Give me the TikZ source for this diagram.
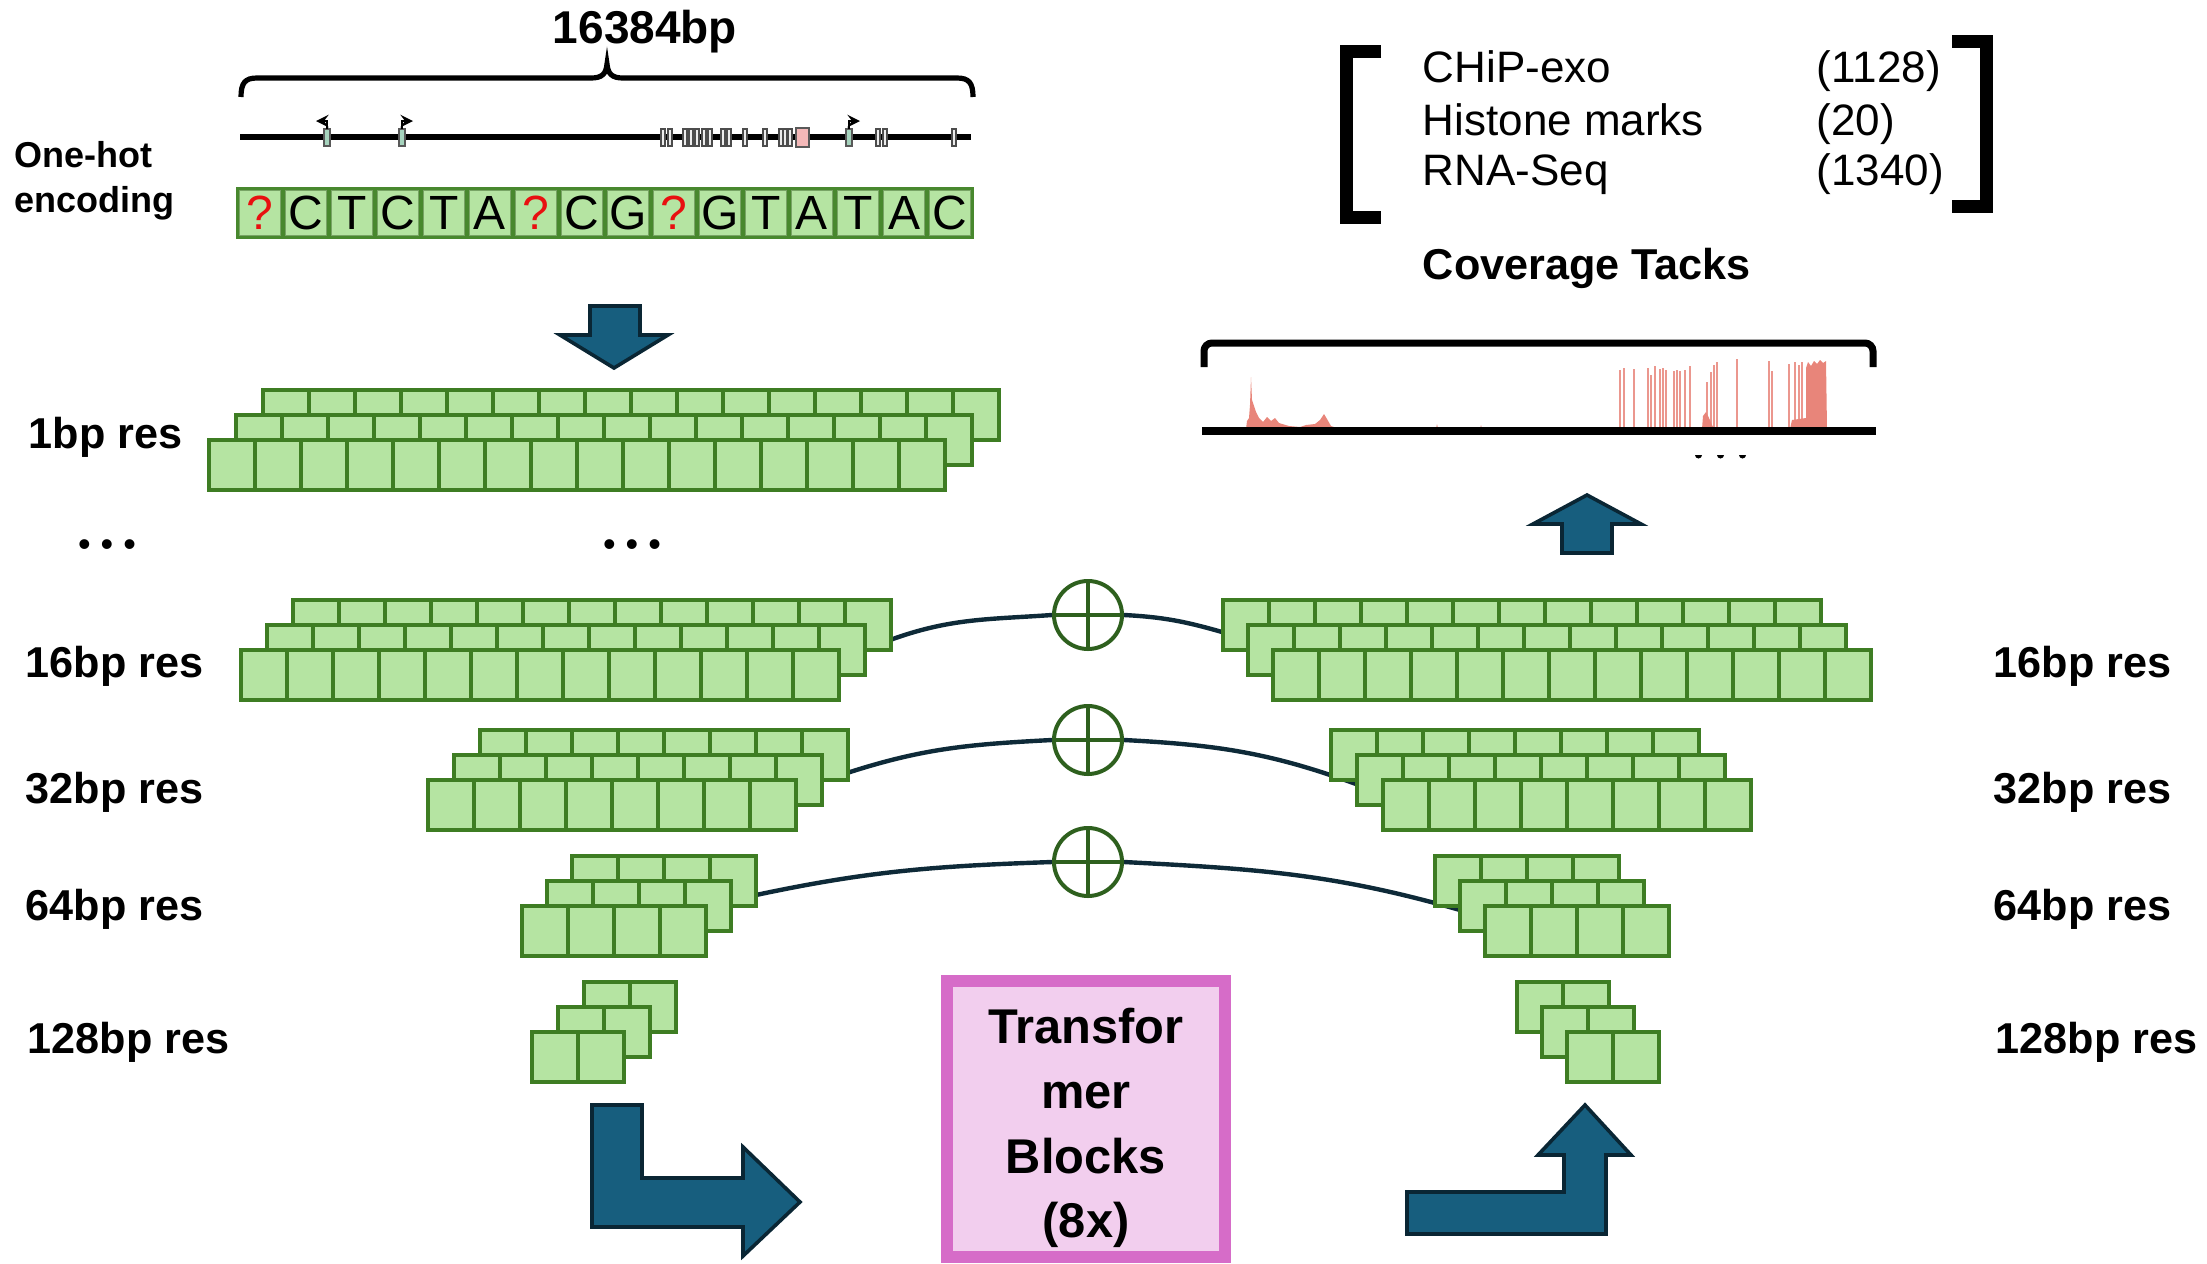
\documentclass[tikz,border=0pt]{standalone}
\usepackage{fontspec}
\setmainfont{Liberation Sans}
\usepackage{tikz}
\usetikzlibrary{positioning}
\usetikzlibrary{backgrounds}

\definecolor{cellfill}{RGB}{181,228,162}
\definecolor{cellline}{RGB}{62,125,35}
\definecolor{seqframe}{RGB}{72,136,46}
\definecolor{sumgreen}{RGB}{46,96,30}
\definecolor{wire}{RGB}{14,42,56}
\definecolor{arrowfill}{RGB}{23,94,126}
\definecolor{arrowline}{RGB}{10,38,52}
\definecolor{blockline}{RGB}{214,108,200}
\definecolor{blockfill}{RGB}{242,206,238}
\definecolor{signal}{RGB}{232,133,122}
\definecolor{qmark}{RGB}{232,16,16}
\definecolor{exon}{RGB}{166,212,190}
\definecolor{utr}{RGB}{244,184,184}

\tikzset{
  bincell/.style={fill=cellfill, draw=cellline, line width=1.1pt},
  seqbox/.style={fill=cellfill, draw=cellline!70!white, line width=0.4pt},
  reslabel/.style={anchor=base west, inner sep=0pt, font=\fontsize{10.8}{13}\selectfont\bfseries},
  listtext/.style={anchor=base west, inner sep=0pt, font=\fontsize{11}{13}\selectfont},
  fatarrow/.style={fill=arrowfill, draw=arrowline, line width=0.9pt, line join=miter},
  skipwire/.style={draw=wire, line width=1.1pt},
  sumnode/.style={circle, draw=sumgreen, fill=white, line width=1pt, minimum size=17pt, inner sep=0pt,
    path picture={\draw[sumgreen, line width=1pt] (path picture bounding box.north) -- (path picture bounding box.south)
      (path picture bounding box.west) -- (path picture bounding box.east);}},
}

% one row of bins: left x, top y, number of bins
\newcommand{\cellrow}[3]{%
  \foreach \i in {1,...,#3}{
    \draw[bincell] ({#1+(\i-1)*46},{#2}) rectangle ++(46,50);
  }
}
% three rows stacked: front row left x, top y, bins, row offset, name
\newcommand{\cellstack}[5]{%
  \cellrow{#1+2*(#4)}{#2-50}{#3}
  \cellrow{#1+(#4)}{#2-25}{#3}
  \cellrow{#1}{#2}{#3}
  \coordinate (#5) at (#1,#2);
}

\begin{document}
\begin{tikzpicture}[x=0.25pt,y=0.25pt,yscale=-1,xscale=1]
\useasboundingbox (0,0) rectangle (2207,1264);

% Text Node
\node[anchor=base, inner sep=0pt, font=\fontsize{11.5}{13}\selectfont\bfseries] (seqlen) at (645,43) {16384bp};
%Brace
\draw[line width=1.3pt] (241,97) .. controls (241,83) and (245,78) .. (257,78) -- (591,78) .. controls (602,78) and (606,74) .. (607,64) .. controls (608,74) and (612,78) .. (623,78) -- (957,78) .. controls (969,78) and (973,83) .. (973,97);

% Text Node
\node[anchor=base west, inner sep=0pt, font=\fontsize{9}{11}\selectfont\bfseries] (onehot) at (14,167) {One-hot};
\node[anchor=base west, inner sep=0pt, font=\fontsize{9}{11}\selectfont\bfseries] (encoding) at (14,212) {encoding};

%Gene track
\draw[line width=1.3pt] (240,137) -- (971,137);
\foreach \x in {663,670,685,691,697,704,710,723,729,745,765,781,785,790,878,885,954}{
  \draw[fill=white!85!gray, draw=gray!60!black, line width=0.3pt] ({\x-2},129) rectangle ({\x+2},146);
}
\draw[fill=utr, draw=gray!70!black, line width=0.3pt] (796,128) rectangle (809,147);
\foreach \x in {327,402,849}{
  \draw[fill=exon, draw=gray!70!black, line width=0.3pt] ({\x-3},129) rectangle ({\x+3},146);
}
\draw[-stealth, line width=0.4pt] (327,129) -- (327,121) -- (316,121);
\draw[-stealth, line width=0.4pt] (402,129) -- (402,121) -- (413,121);
\draw[-stealth, line width=0.4pt] (849,129) -- (849,121) -- (860,121);

%Sequence
\draw[fill=seqframe, draw=seqframe, line width=0.5pt] (237,188) rectangle (973,238);
\foreach \base/\col [count=\k] in {?/qmark,C/black,T/black,C/black,T/black,A/black,?/qmark,C/black,G/black,?/qmark,G/black,T/black,A/black,T/black,A/black,C/black}{
  \draw[seqbox] ({237+(\k-1)*46+2.5},190.5) rectangle ({237+\k*46-2.5},235.5);
  \node[inner sep=0pt, text=\col, font=\fontsize{12}{12}\selectfont] (nt\k) at ({237+(\k-0.5)*46},213) {\base};
}

%Shape: Down Arrow
\draw[fatarrow] (590,306) -- (640,306) -- (640,335) -- (668,335) -- (614,368) -- (560,335) -- (590,335) -- cycle;

%Bins
\cellstack{209}{440}{16}{27}{bp1}
\cellstack{241}{650}{13}{26}{left16}
\cellstack{428}{780}{8}{26}{left32}
\cellstack{522}{906}{4}{25}{left64}
\cellstack{532}{1032}{2}{26}{left128}
\cellstack{1273}{650}{13}{-25}{right16}
\cellstack{1383}{780}{8}{-26}{right32}
\cellstack{1485}{906}{4}{-25}{right64}
\cellstack{1567}{1032}{2}{-25}{right128}

% Text Node
\node[font=\fontsize{9}{9}\selectfont] (dotsl) at (107,548) {• • •};
\node[font=\fontsize{9}{9}\selectfont] (dotsm) at (632,548) {• • •};

% res labels
\node[reslabel] (res1) at (28,448) {1bp res};
\node[reslabel] (res16l) at (25,677) {16bp res};
\node[reslabel] (res32l) at (25,803) {32bp res};
\node[reslabel] (res64l) at (25,920) {64bp res};
\node[reslabel] (res128l) at (27,1053) {128bp res};
\node[reslabel] (res16r) at (1993,677) {16bp res};
\node[reslabel] (res32r) at (1993,803) {32bp res};
\node[reslabel] (res64r) at (1993,920) {64bp res};
\node[reslabel] (res128r) at (1995,1053) {128bp res};

%Skip connections
\node[sumnode] (sum16) at (1088,615) {};
\node[sumnode] (sum32) at (1088,740) {};
\node[sumnode] (sum64) at (1088,862) {};
\coordinate (out16) at (890,640);
\coordinate (out32) at (847,773);
\coordinate (out64) at (756,895);
\coordinate (in16) at (1222,632);
\coordinate (in32) at (1356,784);
\coordinate (in64) at (1460,910);
\begin{scope}[on background layer]
\draw[skipwire] (out16) to[out=-20,in=176] (sum16.west);
\draw[skipwire] (sum16.east) to[out=3,in=196] (in16);
\draw[skipwire] (out32) to[out=-18,in=177] (sum32.west);
\draw[skipwire] (sum32.east) to[out=3,in=200] (in32);
\draw[skipwire] (out64) to[out=-12,in=178] (sum64.west);
\draw[skipwire] (sum64.east) to[out=3,in=196] (in64);
\end{scope}

%Shape: Transformer block
\draw[draw=blockline, fill=blockfill, line width=3.2pt] (947,981) rectangle (1225,1257);
\node[align=center, inner sep=0pt, font=\fontsize{12.2}{16.2}\selectfont\bfseries] (trf) at (1086,1128) {Transfor\\mer\\Blocks\\(8x)};

%Shape: Bent Arrows
\draw[fatarrow] (592,1105) -- (642,1105) -- (642,1178) -- (743,1178) -- (743,1147) -- (800,1202) -- (743,1256) -- (743,1227) -- (592,1227) -- cycle;
\draw[fatarrow] (1407,1192) -- (1564,1192) -- (1564,1155) -- (1538,1155) -- (1585,1105) -- (1631,1155) -- (1606,1155) -- (1606,1234) -- (1407,1234) -- cycle;

%Shape: Up Arrow
\draw[fatarrow] (1562,553) -- (1562,524) -- (1533,524) -- (1587,495) -- (1641,524) -- (1612,524) -- (1612,553) -- cycle;

%Coverage track
\fill[signal] (1246,429) -- (1247,421) -- (1249,418) -- (1250,405) -- (1251,377) -- (1252,400) -- (1254,406) -- (1256,412) -- (1259,418) -- (1263,422) -- (1267,417) -- (1271,421) -- (1275,418) -- (1279,423) -- (1289,426) -- (1300,427) -- (1306,425) -- (1315,424) -- (1320,420) -- (1324,414) -- (1327,419) -- (1331,426) -- (1340,429) -- cycle;
\fill[signal] (1436,429) -- (1437,424) -- (1438,429) -- cycle;
\fill[signal] (1480,429) -- (1481,425) -- (1482,429) -- cycle;
\foreach \x/\w/\t in {1619/2/370,1623/1.5/368,1633/2/369,1647/2/368,1650/1.5/375,1654/2/366,1659/2/369,1662/2/368,1665/2/370,1673/2/371,1676/1.5/370,1679/2/371,1684/1.5/370,1689/2/366,1706/2/382,1710/2/372,1713/2/365,1716/2/362,1736/2/359,1768/2/361,1771/1.5/371,1788/1.5/364,1794/2/362,1798/1.5/365,1801/2/362}{
  \fill[signal, opacity=0.85] (\x,429) rectangle ({\x+\w},\t);
}
\fill[signal] (1702,429) -- (1703,416) -- (1706,412) -- (1709,418) -- (1713,427) -- cycle;
\fill[signal] (1790,429) -- (1792,420) -- (1806,418) -- (1806,429) -- cycle;
\fill[signal] (1806,429) -- (1806,368) -- (1808,362) -- (1811,366) -- (1814,361) -- (1817,364) -- (1820,360) -- (1823,363) -- (1826,361) -- (1827,429) -- cycle;
\draw[line width=1.75pt, rounded corners=2pt] (1204,367) -- (1204,343) -- (1873,343) -- (1873,367);
\draw[line width=2pt] (1202,431) -- (1876,431);
\fill (1695,455) arc (180:0:3.5) -- cycle;
\fill (1717,455) arc (180:0:3.5) -- cycle;
\fill (1739,455) arc (180:0:3.5) -- cycle;

% Text Node
\node[anchor=base west, inner sep=0pt, font=\fontsize{10.8}{13}\selectfont\bfseries] (covtitle) at (1422,279) {Coverage Tacks};

%Track list
\draw[line width=3.2pt] (1381,51.5) -- (1346.5,51.5) -- (1346.5,217.5) -- (1381,217.5);
\draw[line width=3.2pt] (1952,41.5) -- (1986.5,41.5) -- (1986.5,206.5) -- (1952,206.5);
\node[listtext] (chip) at (1422,82) {CHiP-exo};
\node[listtext] (hist) at (1422,135) {Histone marks};
\node[listtext] (rna) at (1422,185) {RNA-Seq};
\node[listtext] (nchip) at (1816,82) {(1128)};
\node[listtext] (nhist) at (1816,135) {(20)};
\node[listtext] (nrna) at (1816,185) {(1340)};

\end{tikzpicture}
\end{document}
